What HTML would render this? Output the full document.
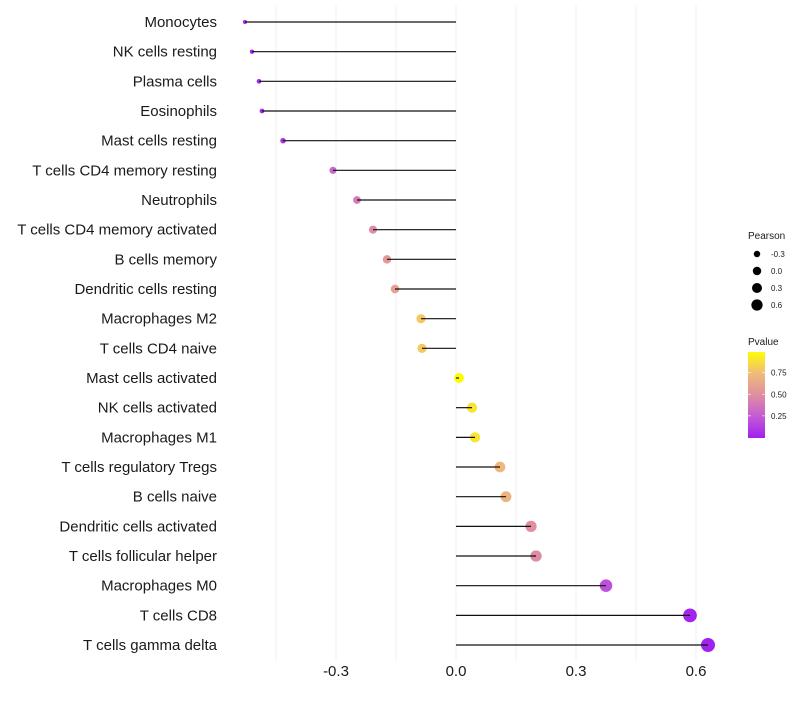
<!DOCTYPE html>
<html><head><meta charset="utf-8"><style>
body{margin:0;background:#fff;font-family:"Liberation Sans",sans-serif;}
</style></head><body>
<svg id="chart" width="800" height="700" xmlns="http://www.w3.org/2000/svg" font-family="Liberation Sans, sans-serif"></svg>
<script>
const categories=["Monocytes","NK cells resting","Plasma cells","Eosinophils","Mast cells resting","T cells CD4 memory resting","Neutrophils","T cells CD4 memory activated","B cells memory","Dendritic cells resting","Macrophages M2","T cells CD4 naive","Mast cells activated","NK cells activated","Macrophages M1","T cells regulatory  Tregs ","B cells naive","Dendritic cells activated","T cells follicular helper","Macrophages M0","T cells CD8","T cells gamma delta"];
const pearson=[-0.5275,-0.51,-0.4925,-0.485,-0.4325,-0.3075,-0.2475,-0.2075,-0.1725,-0.1525,-0.0875,-0.085,0.0075,0.04,0.0475,0.11,0.125,0.1875,0.2,0.375,0.585,0.63];
const pvalue=[0.02,0.03,0.04,0.05,0.08,0.3,0.4,0.48,0.55,0.6,0.8,0.8,0.99,0.9,0.9,0.72,0.7,0.5,0.48,0.2,0.02,0.01];
const xTicks=[-0.3,0.0,0.3,0.6];
const xTickLabels=["-0.3","0.0","0.3","0.6"];
const xGrid=[-0.45,-0.3,-0.15,0,0.15,0.3,0.45,0.6];
const sizeLegend=[-0.3,0.0,0.3,0.6];
const colorTicks=[0.25,0.5,0.75];

const NS="http://www.w3.org/2000/svg";
const svg=document.getElementById('chart');
const xs=v=>456+v*400;
const ys=i=>22+i*29.667;
const rs=v=>Math.sqrt(Math.max(1,24.6+38.8*v));
const stops=[[0,[160,32,240]],[0.25,[196,92,212]],[0.5,[224,143,160]],[0.75,[240,188,120]],[1,[255,255,0]]];
function col(p){p=Math.max(0,Math.min(1,p));for(let k=0;k<stops.length-1;k++){const[a,ca]=stops[k],[b,cb]=stops[k+1];if(p<=b){const t=(p-a)/(b-a);return 'rgb('+ca.map((c,j)=>Math.round(c+(cb[j]-c)*t)).join(',')+')';}}return 'rgb(255,255,0)';}
function mk(tag,attrs,parent){const e=document.createElementNS(NS,tag);for(const k in attrs)e.setAttribute(k,attrs[k]);(parent||svg).appendChild(e);return e;}

xGrid.forEach(v=>{
  const g=mk('line',{x1:xs(v),x2:xs(v),y1:5,y2:660,stroke:'#f0f0f0','stroke-width':1});
  
  
});
categories.forEach((c,i)=>{
  const t=mk('text',{x:217,y:ys(i)+5,'text-anchor':'end','font-size':15,fill:'#1a1a1a'});
  t.textContent=c;
  
  
});
pearson.forEach((v,i)=>{
  const c=mk('circle',{cx:xs(v),cy:ys(i),r:rs(v),fill:col(pvalue[i])});
  
  
  const l=mk('line',{x1:xs(0),x2:xs(v),y1:ys(i),y2:ys(i),stroke:'#111','stroke-width':1.2});
  
  
});
xTicks.forEach((v,i)=>{
  const t=mk('text',{x:xs(v),y:676,'text-anchor':'middle','font-size':15,fill:'#1a1a1a'});
  t.textContent=xTickLabels[i];
  
  
});
let t=mk('text',{x:748,y:239,'font-size':10,fill:'#1a1a1a'});t.textContent='Pearson';


sizeLegend.forEach((v,i)=>{
  const y=254+i*17;
  const c=mk('circle',{cx:757,cy:y,r:rs(v)*0.73+0.6,fill:'#000'});
  
  
  const tx=mk('text',{x:771,y:y+3,'font-size':8,fill:'#1a1a1a'});tx.textContent=v.toFixed(1);
  
  
});
t=mk('text',{x:748,y:345,'font-size':10,fill:'#1a1a1a'});t.textContent='Pvalue';


const defs=mk('defs',{});
const lg=mk('linearGradient',{id:'pg',x1:0,y1:1,x2:0,y2:0},defs);
[0,0.25,0.5,0.75,1].forEach(p=>mk('stop',{offset:p,'stop-color':col(p*0.99)},lg));
const bar=mk('rect',{x:748,y:352,width:17,height:86,fill:'url(#pg)'});


colorTicks.forEach(p=>{
  const y=437.5-p*86.5;
  mk('line',{x1:748,x2:751,y1:y,y2:y,stroke:'#fff','stroke-width':0.6});
  mk('line',{x1:762,x2:765,y1:y,y2:y,stroke:'#fff','stroke-width':0.6});
  const tx=mk('text',{x:771,y:y+3,'font-size':8,fill:'#1a1a1a'});tx.textContent=p.toFixed(2);
  
  
});
</script>
</body></html>
